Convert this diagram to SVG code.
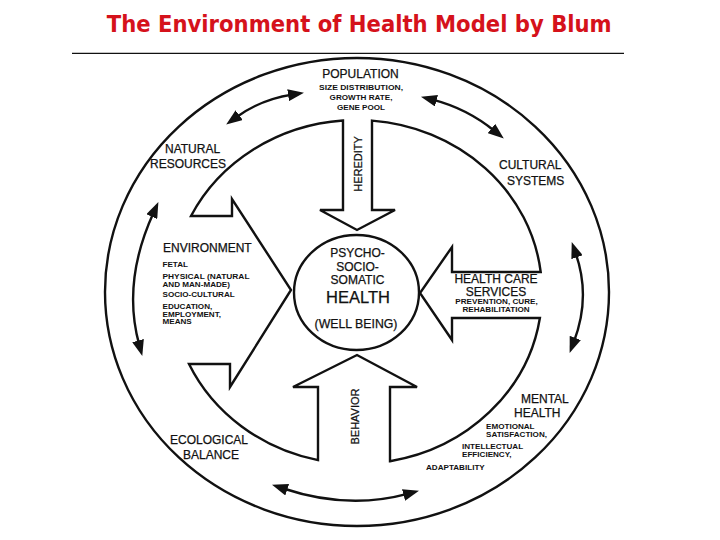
<svg xmlns="http://www.w3.org/2000/svg" width="720" height="540" viewBox="0 0 720 540">
<style>
.ln{fill:none;stroke:#111;stroke-width:2.4;stroke-linejoin:miter}
.cn{fill:none;stroke:#111;stroke-width:2.4}
.t{font-family:"Liberation Sans",Arial,sans-serif;font-size:12px;fill:#111;stroke:#111;stroke-width:0.25}
.s{font-family:"Liberation Sans",Arial,sans-serif;font-size:8.1px;font-weight:bold;fill:#111}
.m{text-anchor:middle}
.title{font-family:"DejaVu Sans",Verdana,sans-serif;font-size:23.5px;font-weight:bold;fill:#d5121b}
</style>
<defs>
<marker id="ah" markerUnits="userSpaceOnUse" markerWidth="16" markerHeight="12" refX="4" refY="6" orient="auto-start-reverse">
<path d="M0,0 L16,6 L0,12 z" fill="#111"/>
</marker>
</defs>
<rect width="720" height="540" fill="#fff"/>
<g id="title">
<text class="title m" x="359.2" y="32.3" textLength="505" lengthAdjust="spacingAndGlyphs">The Environment of Health Model by Blum</text>
<line x1="72" y1="53.3" x2="624" y2="53.3" stroke="#111" stroke-width="1.3"/>
</g>
<g id="outer-ring">
<ellipse class="ln" cx="357" cy="292" rx="252" ry="234"/>
</g>
<g id="inner-ring-arrows">
<path class="ln" d="M343,120.5 L343,210 L320,210 L357,230 L395,210 L372,210 L372,120.6 A185,172 0 0 1 540.7,272 L452,272 L452,247 L420,293 L452,340 L452,318 L539.9,318 A185,172 0 0 1 390,461.2 L390,387 L417,387 L357,355 L293,387 L318,387 L318,460.1 A185,172 0 0 1 189,364 L230,364 L230,387 L291,290 L232,199 L232,216 L191,216 A185,172 0 0 1 343,120.5 Z"/>
</g>
<g id="health">
<ellipse class="ln" cx="356.5" cy="292.5" rx="62.5" ry="57.5"/>
<text class="t m" x="357.5" y="257">PSYCHO-</text>
<text class="t m" x="357.5" y="270.5">SOCIO-</text>
<text class="t m" x="357.5" y="284">SOMATIC</text>
<text class="t m" x="358" y="303.3" style="font-size:16.5px">HEALTH</text>
<text class="t m" x="356" y="327.5" style="font-size:12.3px">(WELL BEING)</text>
</g>
<g id="heredity">
<text class="t m" transform="translate(362,164) rotate(-90)" style="font-size:11px">HEREDITY</text>
</g>
<g id="behavior">
<text class="t m" transform="translate(359,416.5) rotate(-90)" style="font-size:11px">BEHAVIOR</text>
</g>
<g id="environment">
<text class="t" x="163" y="252">ENVIRONMENT</text>
<text class="s" x="162.5" y="267">FETAL</text>
<text class="s" x="162.5" y="278.5" textLength="87" lengthAdjust="spacingAndGlyphs">PHYSICAL (NATURAL</text>
<text class="s" x="162.5" y="286.6">AND MAN-MADE)</text>
<text class="s" x="162.5" y="297">SOCIO-CULTURAL</text>
<text class="s" x="162.5" y="309">EDUCATION,</text>
<text class="s" x="162.5" y="316.7">EMPLOYMENT,</text>
<text class="s" x="162.5" y="324.2">MEANS</text>
</g>
<g id="health-care">
<text class="t m" x="496" y="283.4">HEALTH CARE</text>
<text class="t m" x="496" y="295.6">SERVICES</text>
<text class="s m" x="496.5" y="304.2">PREVENTION, CURE,</text>
<text class="s m" x="496" y="312.4">REHABILITATION</text>
</g>
<g id="population">
<text class="t m" x="360.5" y="78">POPULATION</text>
<text class="s m" x="361" y="90" textLength="84" lengthAdjust="spacingAndGlyphs">SIZE DISTRIBUTION,</text>
<text class="s m" x="361" y="100">GROWTH RATE,</text>
<text class="s m" x="361" y="110">GENE POOL</text>
</g>
<g id="natural-resources">
<text class="t" x="165" y="153">NATURAL</text>
<text class="t" x="150" y="168">RESOURCES</text>
</g>
<g id="cultural-systems">
<text class="t" x="499" y="169">CULTURAL</text>
<text class="t" x="507" y="185">SYSTEMS</text>
</g>
<g id="mental-health">
<text class="t" x="521" y="402.7">MENTAL</text>
<text class="t" x="514" y="417.3">HEALTH</text>
<text class="s" x="486" y="429">EMOTIONAL</text>
<text class="s" x="486" y="436.9">SATISFACTION,</text>
<text class="s" x="462" y="449">INTELLECTUAL</text>
<text class="s" x="462" y="456.9">EFFICIENCY,</text>
<text class="s" x="426" y="470">ADAPTABILITY</text>
</g>
<g id="ecological-balance">
<text class="t" x="170" y="444">ECOLOGICAL</text>
<text class="t" x="183" y="459">BALANCE</text>
</g>
<g id="connectors">
<path class="cn" d="M235.9,117.5 Q261.2,99.2 292.1,94.6" marker-start="url(#ah)" marker-end="url(#ah)"/>
<path class="cn" d="M432.6,99.7 Q467,108.6 494.5,131" marker-start="url(#ah)" marker-end="url(#ah)"/>
<path class="cn" d="M153.4,213 Q122,282 139.1,344.4" marker-start="url(#ah)" marker-end="url(#ah)"/>
<path class="cn" d="M575.7,253.4 Q591,297 573.9,341.7" marker-start="url(#ah)" marker-end="url(#ah)"/>
<path class="cn" d="M283.4,488.5 Q348,510 407.4,493.9" marker-start="url(#ah)" marker-end="url(#ah)"/>
</g>
</svg>
